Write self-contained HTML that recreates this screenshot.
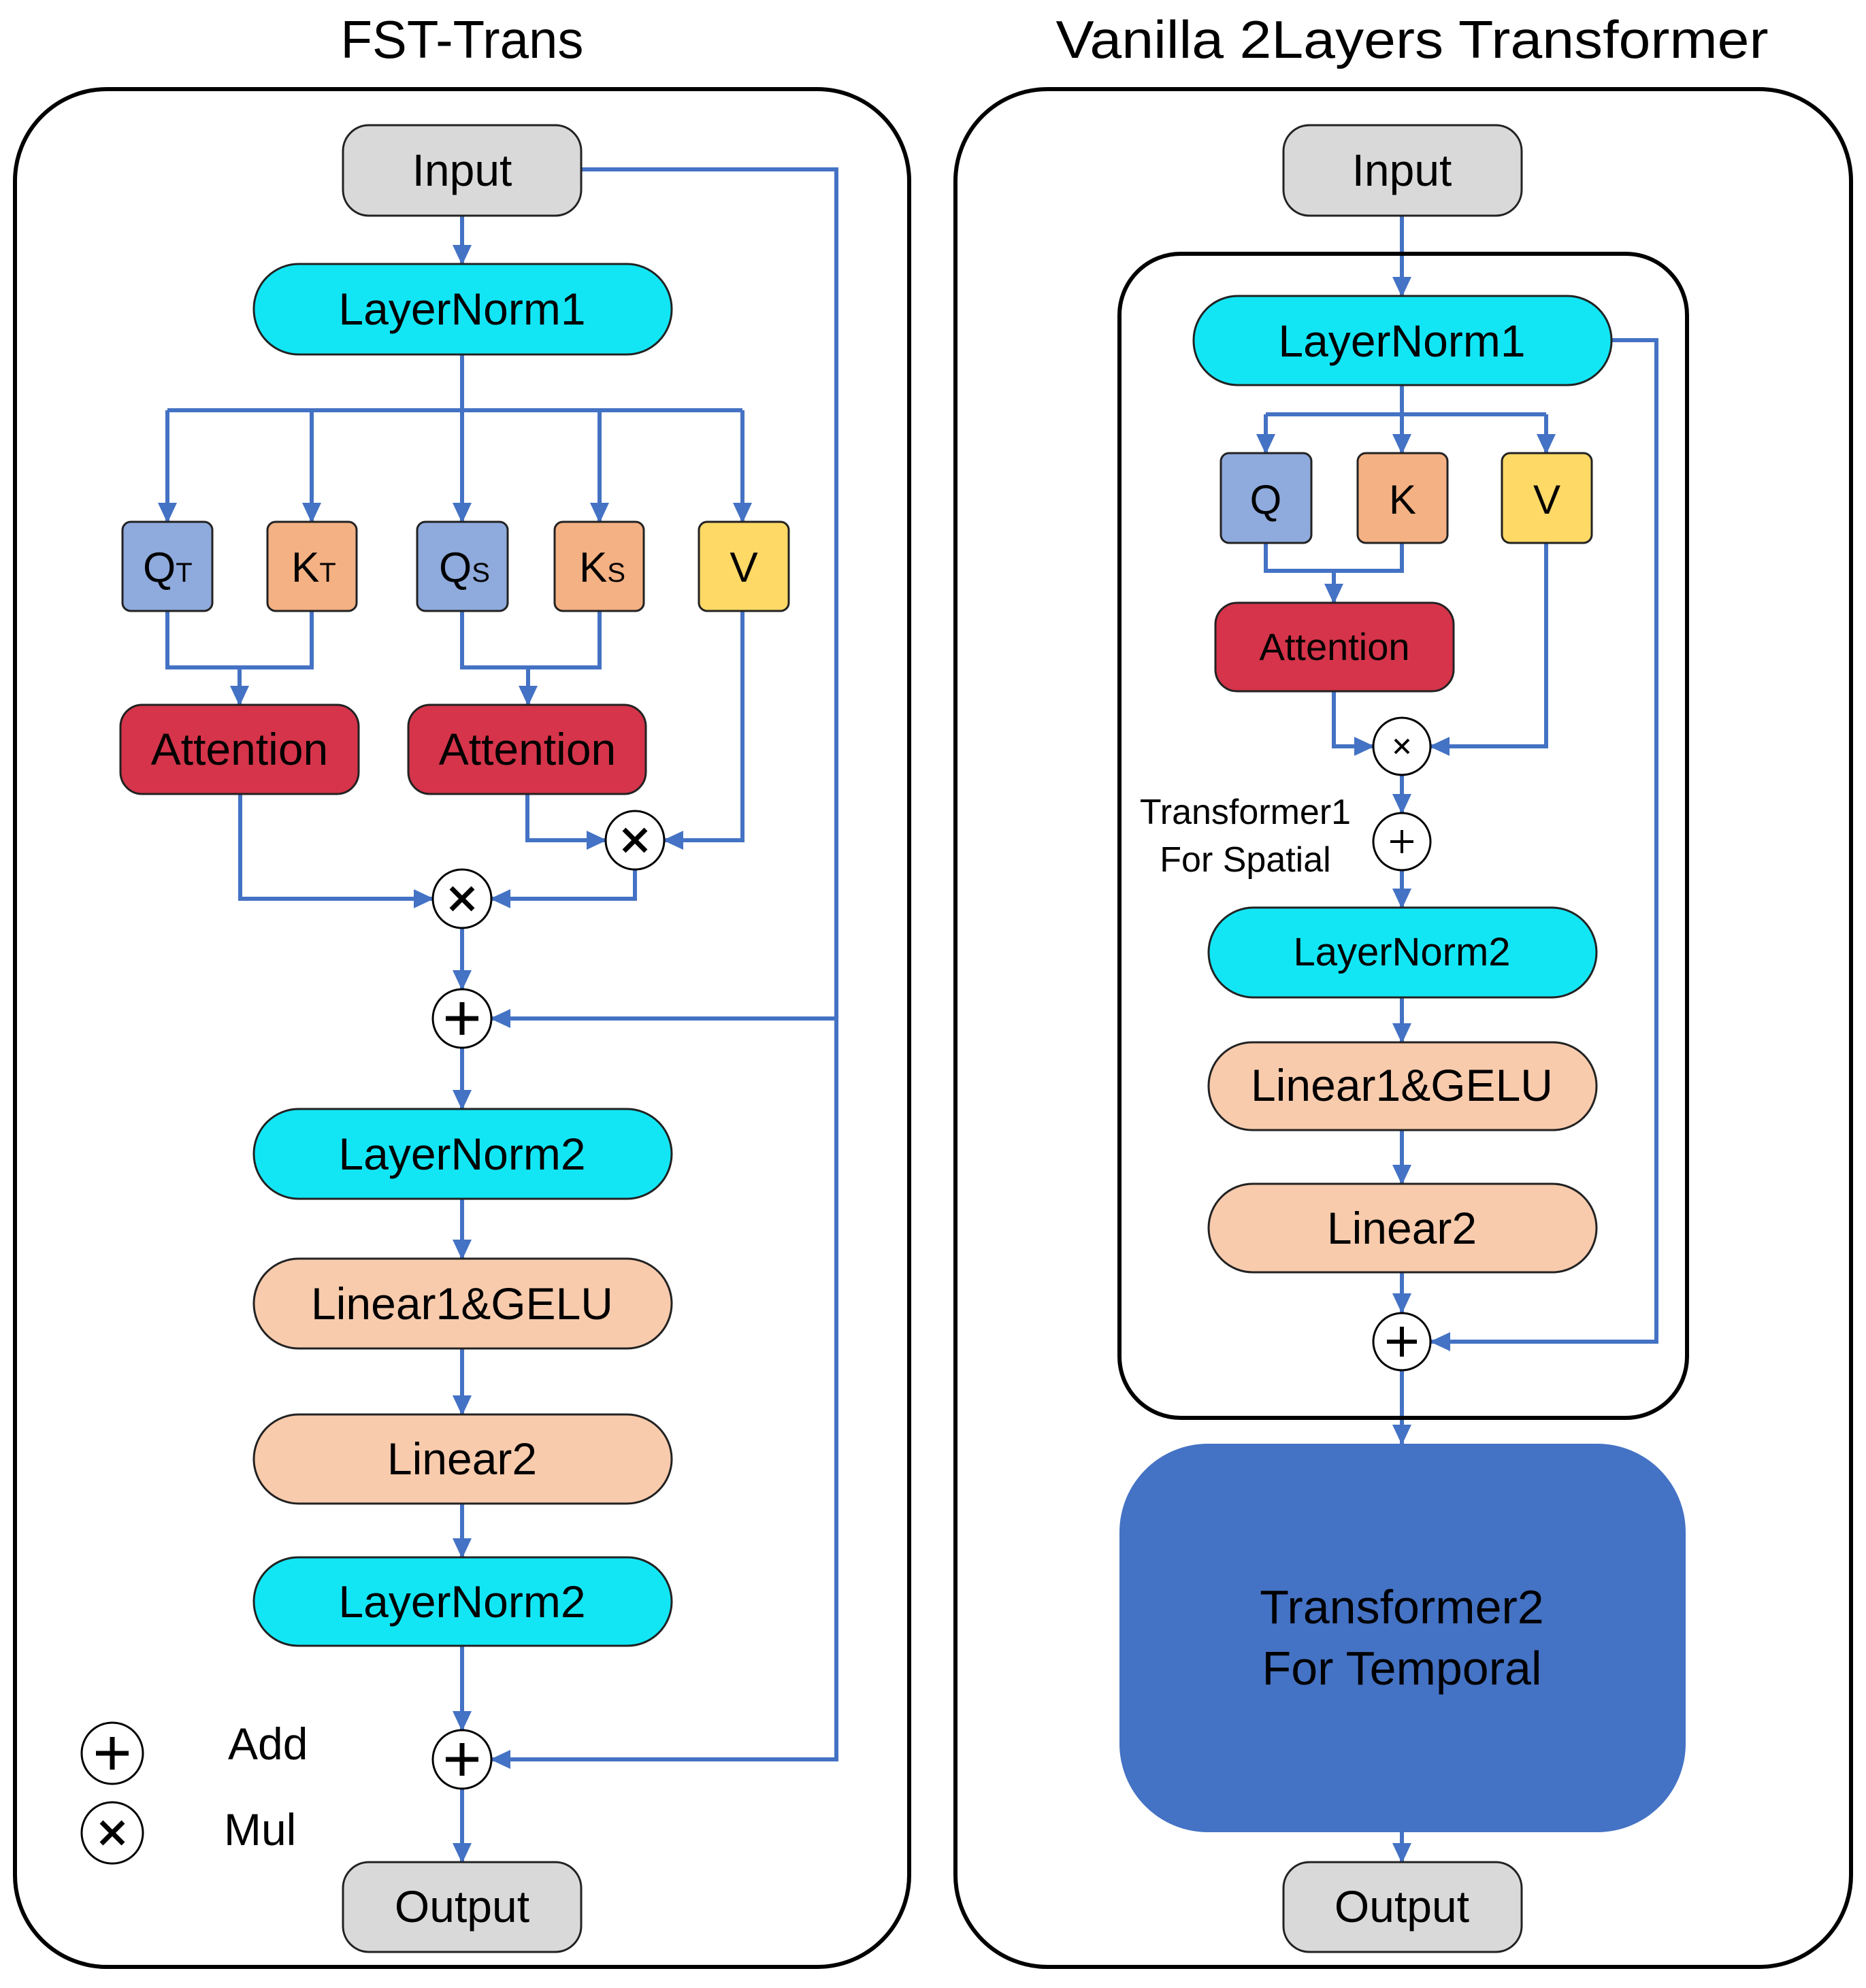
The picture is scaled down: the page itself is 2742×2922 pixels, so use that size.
<!DOCTYPE html>
<html><head><meta charset="utf-8"><style>
html,body{margin:0;padding:0;background:#fff;}
svg{display:block;}
text{font-family:"Liberation Sans",sans-serif;fill:#000;}
</style></head><body>
<svg width="2742" height="2922" viewBox="0 0 2742 2922" xmlns="http://www.w3.org/2000/svg">
<defs>
<marker id="a" markerUnits="userSpaceOnUse" markerWidth="30" markerHeight="28" refX="28" refY="14" orient="auto">
<path d="M0,0 L30,14 L0,28 z" fill="#4472C4"/>
</marker>
</defs>

<text x="679" y="85" font-size="78" text-anchor="middle" textLength="357" lengthAdjust="spacingAndGlyphs">FST-Trans</text>
<text x="2075" y="85" font-size="78" text-anchor="middle" textLength="1047" lengthAdjust="spacingAndGlyphs">Vanilla 2Layers Transformer</text>

<rect x="22" y="131" width="1314" height="2760" rx="135" fill="none" stroke="#000" stroke-width="6"/>
<rect x="1404" y="131" width="1316" height="2760" rx="135" fill="none" stroke="#000" stroke-width="6"/>

<g stroke="#4472C4" stroke-width="6" fill="none">
<line x1="679" y1="317" x2="679" y2="388" marker-end="url(#a)"/>
<path d="M679,521 V603 M246,603 H1091"/>
<line x1="246" y1="603" x2="246" y2="767" marker-end="url(#a)"/>
<line x1="458" y1="603" x2="458" y2="767" marker-end="url(#a)"/>
<line x1="679" y1="603" x2="679" y2="767" marker-end="url(#a)"/>
<line x1="881" y1="603" x2="881" y2="767" marker-end="url(#a)"/>
<line x1="1091" y1="603" x2="1091" y2="767" marker-end="url(#a)"/>
<path d="M246,898 V981 H458 V898"/>
<line x1="352" y1="981" x2="352" y2="1036" marker-end="url(#a)"/>
<path d="M679,898 V981 H881 V898"/>
<line x1="776" y1="981" x2="776" y2="1036" marker-end="url(#a)"/>
<path d="M775,1167 V1235 H890" marker-end="url(#a)"/>
<path d="M1091,898 V1235 H976" marker-end="url(#a)"/>
<path d="M353,1167 V1321 H636" marker-end="url(#a)"/>
<path d="M933,1278 V1321 H722" marker-end="url(#a)"/>
<line x1="679" y1="1364" x2="679" y2="1454" marker-end="url(#a)"/>
<path d="M854,249 H1229 V2586 H722" marker-end="url(#a)"/>
<path d="M1229,1497 H722" marker-end="url(#a)"/>
<line x1="679" y1="1540" x2="679" y2="1630" marker-end="url(#a)"/>
<line x1="679" y1="1762" x2="679" y2="1850" marker-end="url(#a)"/>
<line x1="679" y1="1982" x2="679" y2="2079" marker-end="url(#a)"/>
<line x1="679" y1="2210" x2="679" y2="2289" marker-end="url(#a)"/>
<line x1="679" y1="2419" x2="679" y2="2543" marker-end="url(#a)"/>
<line x1="679" y1="2629" x2="679" y2="2737" marker-end="url(#a)"/>

<line x1="2060" y1="317" x2="2060" y2="435" marker-end="url(#a)"/>
<path d="M2060,566 V609 M1860,609 H2272"/>
<line x1="1860" y1="609" x2="1860" y2="666" marker-end="url(#a)"/>
<line x1="2060" y1="609" x2="2060" y2="666" marker-end="url(#a)"/>
<line x1="2272" y1="609" x2="2272" y2="666" marker-end="url(#a)"/>
<path d="M1860,798 V839 H2060 V798"/>
<line x1="1960" y1="839" x2="1960" y2="886" marker-end="url(#a)"/>
<path d="M1960,1016 V1097 H2018" marker-end="url(#a)"/>
<path d="M2272,798 V1097 H2102" marker-end="url(#a)"/>
<line x1="2060" y1="1139" x2="2060" y2="1195" marker-end="url(#a)"/>
<line x1="2060" y1="1280" x2="2060" y2="1334" marker-end="url(#a)"/>
<line x1="2060" y1="1466" x2="2060" y2="1532" marker-end="url(#a)"/>
<line x1="2060" y1="1661" x2="2060" y2="1740" marker-end="url(#a)"/>
<line x1="2060" y1="1870" x2="2060" y2="1929" marker-end="url(#a)"/>
<line x1="2060" y1="2015" x2="2060" y2="2122" marker-end="url(#a)"/>
<path d="M2368,500 H2434 V1972 H2103" marker-end="url(#a)"/>
<line x1="2060" y1="2693" x2="2060" y2="2737" marker-end="url(#a)"/>
</g>

<rect x="1645" y="373" width="834" height="1711" rx="90" fill="none" stroke="#000" stroke-width="6"/>

<g stroke="#222" stroke-width="3">
<rect x="504" y="184" width="350" height="133" rx="38" fill="#D9D9D9"/>
<rect x="373" y="388" width="614" height="133" rx="66" fill="#12E6F5"/>
<rect x="180" y="767" width="132" height="131" rx="12" fill="#8FAADC"/>
<rect x="393" y="767" width="131" height="131" rx="12" fill="#F4B183"/>
<rect x="613" y="767" width="133" height="131" rx="12" fill="#8FAADC"/>
<rect x="815" y="767" width="131" height="131" rx="12" fill="#F4B183"/>
<rect x="1027" y="767" width="132" height="131" rx="12" fill="#FFD966"/>
<rect x="177" y="1036" width="350" height="131" rx="32" fill="#D5344A"/>
<rect x="600" y="1036" width="349" height="131" rx="32" fill="#D5344A"/>
<rect x="373" y="1630" width="614" height="132" rx="66" fill="#12E6F5"/>
<rect x="373" y="1850" width="614" height="132" rx="66" fill="#F8CBAD"/>
<rect x="373" y="2079" width="614" height="131" rx="66" fill="#F8CBAD"/>
<rect x="373" y="2289" width="614" height="130" rx="65" fill="#12E6F5"/>
<rect x="504" y="2737" width="350" height="132" rx="38" fill="#D9D9D9"/>
</g>
<g stroke="#000" stroke-width="3" fill="#fff">
<circle cx="933" cy="1235" r="43"/>
<circle cx="679" cy="1321" r="43"/>
<circle cx="679" cy="1497" r="43"/>
<circle cx="679" cy="2586" r="43"/>
<circle cx="165" cy="2577" r="45"/>
<circle cx="165" cy="2694" r="45"/>
<circle cx="2060" cy="1097" r="42"/>
<circle cx="2060" cy="1237" r="42"/>
<circle cx="2060" cy="1972" r="42"/>
</g>
<g stroke="#000" stroke-width="7" stroke-linecap="butt">
<path d="M917,1219 L949,1251 M949,1219 L917,1251"/>
<path d="M663,1305 L695,1337 M695,1305 L663,1337"/>
<path d="M679,1473 V1521 M655,1497 H703"/>
<path d="M679,2562 V2610 M655,2586 H703"/>
<path d="M165,2553 V2601 M141,2577 H189"/>
<path d="M149,2678 L181,2710 M181,2678 L149,2710"/>
</g>
<g stroke="#000" stroke-width="4">
<path d="M2050,1087 L2070,1107 M2070,1087 L2050,1107"/>
<path d="M2060,1220 V1254 M2043,1237 H2077"/>
<path d="M2060,1950 V1994 M2038,1972 H2082" stroke-width="6"/>
</g>

<g font-size="66" text-anchor="middle">
<text x="679" y="273">Input</text>
<text x="679" y="477">LayerNorm1</text>
<text x="352" y="1124">Attention</text>
<text x="775" y="1124">Attention</text>
<text x="679" y="1719">LayerNorm2</text>
<text x="679" y="1939">Linear1&amp;GELU</text>
<text x="679" y="2167">Linear2</text>
<text x="679" y="2377">LayerNorm2</text>
<text x="679" y="2825">Output</text>
</g>
<g font-size="62">
<text x="210" y="855">Q<tspan font-size="40">T</tspan></text>
<text x="428" y="855">K<tspan font-size="40">T</tspan></text>
<text x="645" y="855">Q<tspan font-size="40">S</tspan></text>
<text x="851" y="855">K<tspan font-size="40">S</tspan></text>
<text x="1093" y="855" text-anchor="middle">V</text>
</g>
<text x="335" y="2586" font-size="66">Add</text>
<text x="329" y="2712" font-size="66">Mul</text>

<g stroke="#222" stroke-width="3">
<rect x="1886" y="184" width="350" height="133" rx="38" fill="#D9D9D9"/>
<rect x="1754" y="435" width="614" height="131" rx="65" fill="#12E6F5"/>
<rect x="1794" y="666" width="133" height="132" rx="12" fill="#8FAADC"/>
<rect x="1995" y="666" width="132" height="132" rx="12" fill="#F4B183"/>
<rect x="2207" y="666" width="132" height="132" rx="12" fill="#FFD966"/>
<rect x="1786" y="886" width="350" height="130" rx="32" fill="#D5344A"/>
<rect x="1776" y="1334" width="570" height="132" rx="66" fill="#12E6F5"/>
<rect x="1776" y="1532" width="570" height="129" rx="64" fill="#F8CBAD"/>
<rect x="1776" y="1740" width="570" height="130" rx="65" fill="#F8CBAD"/>
<rect x="1886" y="2737" width="350" height="132" rx="38" fill="#D9D9D9"/>
</g>
<rect x="1645" y="2122" width="832" height="571" rx="130" fill="#4472C4"/>

<g font-size="66" text-anchor="middle">
<text x="2060" y="273">Input</text>
<text x="2060" y="524">LayerNorm1</text>
<text x="1860" y="755" font-size="60">Q</text>
<text x="2061" y="755" font-size="60">K</text>
<text x="2273" y="755" font-size="60">V</text>
<text x="1961" y="970" font-size="56">Attention</text>
<text x="2060" y="1419" font-size="58">LayerNorm2</text>
<text x="2060" y="1618">Linear1&amp;GELU</text>
<text x="2060" y="1828">Linear2</text>
<text x="2060" y="2386" font-size="70">Transformer2</text>
<text x="2060" y="2476" font-size="70">For Temporal</text>
<text x="2060" y="2825">Output</text>
</g>
<g font-size="52" text-anchor="middle">
<text x="1830" y="1211">Transformer1</text>
<text x="1830" y="1281">For Spatial</text>
</g>
</svg>
</body></html>
